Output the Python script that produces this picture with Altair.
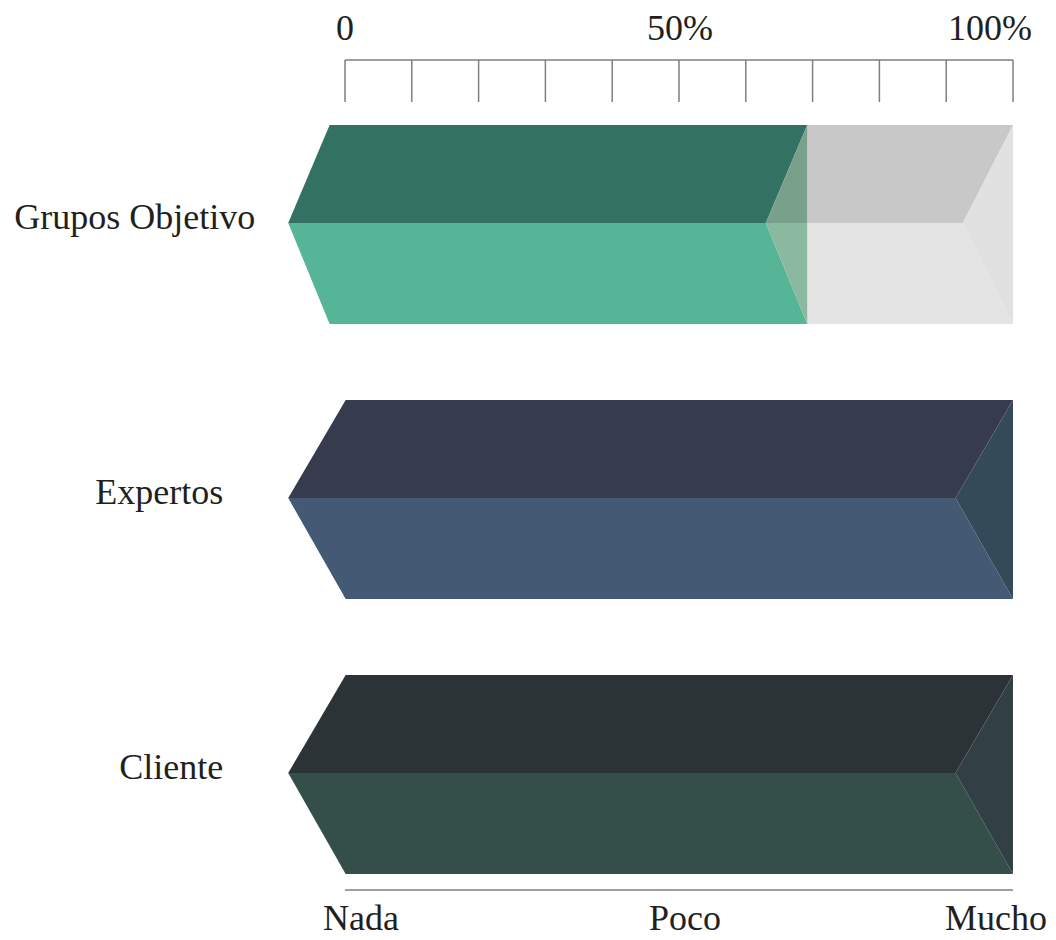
import altair as alt
import pandas as pd

# ---------------- data ----------------
categories = ["Grupos Objetivo", "Expertos", "Cliente"]
values = [69.2, 100.0, 100.0]          # percent of the scale Nada -> Mucho

top_tick_values = [0, 10, 20, 30, 40, 50, 60, 70, 80, 90, 100]
top_label_values = [0, 50, 100]
top_label_texts = ["0", "50%", "100%"]

bottom_label_values = [0, 50, 100]
bottom_label_texts = ["Nada", "Poco", "Mucho"]

# ---------------- styles ----------------
face_colors = [
    {"top": "#337262", "bottom": "#56b597", "end_top": "#78a08b", "end_bottom": "#8bb9a0"},
    {"top": "#363c4e", "bottom": "#445a74", "end_top": "#344a58", "end_bottom": "#344a58"},
    {"top": "#2b3337", "bottom": "#344e4a", "end_top": "#323f44", "end_bottom": "#323f44"},
]
ghost_colors = {"top": "#c8c8c8", "bottom": "#e4e4e4", "end": "#e2e1e2"}
bevels = [6.2, 8.6, 8.6]        # depth of the pointed ends, in scale units
ghost_bevel = 7.5
point_x = -8.5                  # left tip of every prism
label_gap_px = [33, 65, 65]     # gap between label and prism tip
font = "Liberation Serif"
text_color = "#231f20"
rule_color = "#7f7f7f"

W, H = 1040, 940
PX = 6.68                       # pixels per percent
XMIN = -337 / PX
XMAX = XMIN + W / PX
FIRST_MID, STEP, HT, HB = 215, 275, 98, 101

xs = alt.Scale(domain=[XMIN, XMAX], nice=False, zero=False)
ys = alt.Scale(domain=[0, H], reverse=True, nice=False, zero=False)

# ---------------- geometry built from the data ----------------
ghost_rows, bar_rows = [], []


def add(rows, face, color, pts):
    # pts: (x, y, y2) columns of a vertical area
    for (x, y, y2) in pts:
        rows.append({"face": face, "color": color, "x": x, "y": y, "y2": y2})


for i, (cat, v) in enumerate(zip(categories, values)):
    mid = FIRST_MID + STEP * i
    t, b = mid - HT, mid + HB
    bev = bevels[i]
    c = face_colors[i]
    L = point_x
    if v < 100:
        gb = ghost_bevel
        add(ghost_rows, f"{i}g_top", ghost_colors["top"],
            [(v, t, mid), (100 - gb, t, mid), (100, t, t)])
        add(ghost_rows, f"{i}g_bot", ghost_colors["bottom"],
            [(v, mid, b), (100 - gb, mid, b), (100, b, b)])
        add(ghost_rows, f"{i}g_end", ghost_colors["end"],
            [(100 - gb, mid, mid), (100, t, b)])
    add(bar_rows, f"{i}a_top", c["top"],
        [(L, mid, mid), (L + bev, t, mid), (v - bev, t, mid), (v, t, t)])
    add(bar_rows, f"{i}b_bot", c["bottom"],
        [(L, mid, mid), (L + bev, mid, b), (v - bev, mid, b), (v, b, b)])
    add(bar_rows, f"{i}c_et", c["end_top"], [(v - bev, mid, mid), (v, t, mid)])
    add(bar_rows, f"{i}d_eb", c["end_bottom"], [(v - bev, mid, mid), (v, mid, b)])


def faces(rows):
    return alt.Chart(pd.DataFrame(rows)).mark_area(interpolate="linear").encode(
        x=alt.X("x:Q", scale=xs, axis=None),
        y=alt.Y("y:Q", scale=ys, axis=None, stack=None),
        y2="y2:Q",
        detail="face:N",
        color=alt.Color("color:N", scale=None),
    )


layers = []
if ghost_rows:
    layers.append(faces(ghost_rows))
layers.append(faces(bar_rows))

# category labels
lab_df = pd.DataFrame({
    "label": categories,
    "x": [point_x - g / PX for g in label_gap_px],
    "y": [FIRST_MID + STEP * i + 6 for i in range(len(categories))],
})
layers.append(
    alt.Chart(lab_df).mark_text(align="right", baseline="alphabetic", font=font,
                                fontSize=36, color=text_color).encode(
        x=alt.X("x:Q", scale=xs, axis=None), y=alt.Y("y:Q", scale=ys, axis=None), text="label:N")
)

# top scale: line + ticks
top_line = pd.DataFrame({"x": [0], "x2": [100], "y": [52]})
layers.append(alt.Chart(top_line).mark_rule(color=rule_color, strokeWidth=1.5).encode(
    x=alt.X("x:Q", scale=xs, axis=None), x2="x2:Q", y=alt.Y("y:Q", scale=ys, axis=None)))
ticks = pd.DataFrame({"x": top_tick_values, "y": [52] * len(top_tick_values), "y2": [94] * len(top_tick_values)})
layers.append(alt.Chart(ticks).mark_rule(color=rule_color, strokeWidth=1.5).encode(
    x=alt.X("x:Q", scale=xs, axis=None), y=alt.Y("y:Q", scale=ys, axis=None), y2="y2:Q"))
top_lab = pd.DataFrame({"x": top_label_values, "t": top_label_texts,
                        "dx": [0, 1, -23]})
top_lab["xp"] = top_lab["x"] + top_lab["dx"] / PX
top_lab["y"] = 32
layers.append(alt.Chart(top_lab).mark_text(align="center", baseline="alphabetic", font=font,
                                           fontSize=36, color=text_color).encode(
    x=alt.X("xp:Q", scale=xs, axis=None), y=alt.Y("y:Q", scale=ys, axis=None), text="t:N"))

# bottom scale: line + labels
bot_line = pd.DataFrame({"x": [0], "x2": [100], "y": [882]})
layers.append(alt.Chart(bot_line).mark_rule(color=rule_color, strokeWidth=1.5).encode(
    x=alt.X("x:Q", scale=xs, axis=None), x2="x2:Q", y=alt.Y("y:Q", scale=ys, axis=None)))
bot_lab = pd.DataFrame({"x": bottom_label_values, "t": bottom_label_texts, "dx": [16, 6, -17]})
bot_lab["xp"] = bot_lab["x"] + bot_lab["dx"] / PX
bot_lab["y"] = 922
layers.append(alt.Chart(bot_lab).mark_text(align="center", baseline="alphabetic", font=font,
                                           fontSize=36, color=text_color).encode(
    x=alt.X("xp:Q", scale=xs, axis=None), y=alt.Y("y:Q", scale=ys, axis=None), text="t:N"))

chart = alt.layer(*layers).properties(
    width=W, height=H, padding=0, autosize=alt.AutoSizeParams(type="none")
).configure_view(stroke=None)

chart.save("out.html", embed_options={"renderer": "svg", "actions": False})
